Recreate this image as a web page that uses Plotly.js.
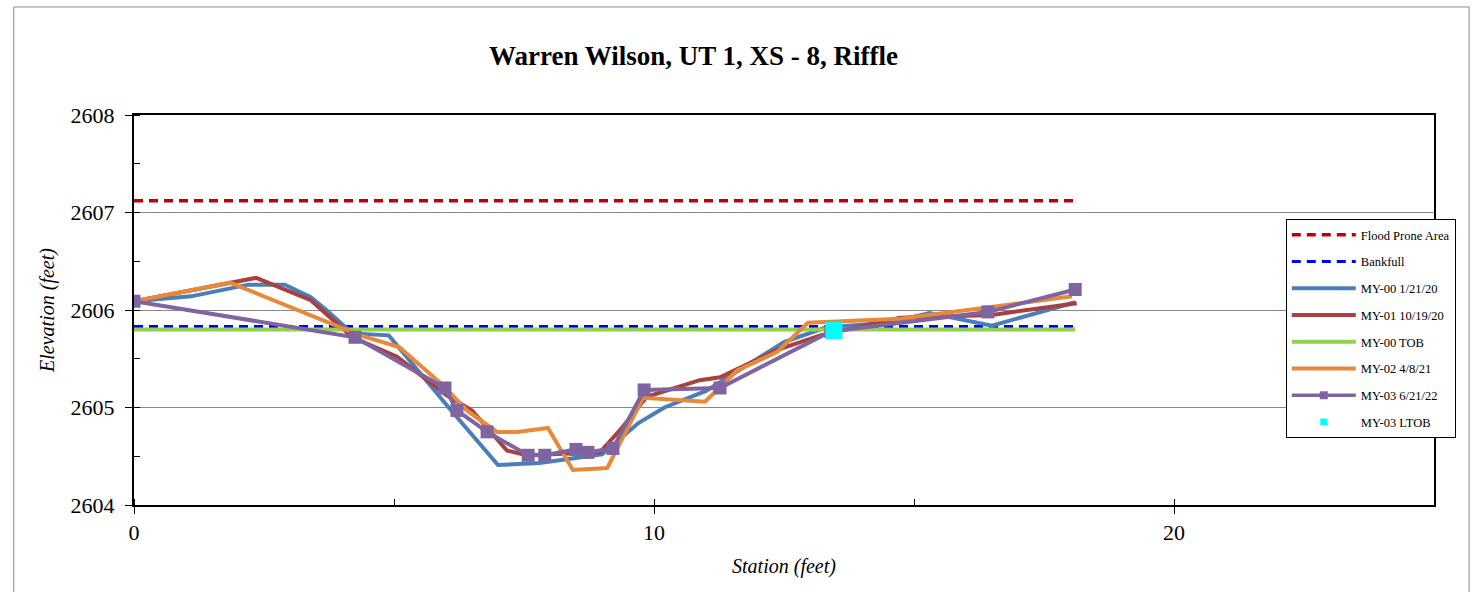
<!DOCTYPE html>
<html><head><meta charset="utf-8">
<script src="https://cdn.plot.ly/plotly-3.0.1.min.js"></script>
<style>html,body{margin:0;padding:0;background:#fff;}#chart{width:1474px;height:592px;}</style>
</head><body><div id="chart"></div>
<script>
const floodX = [0, 18.1];
const floodY = [2607.12, 2607.12];
const bankX = [0, 18.1];
const bankY = [2605.83, 2605.83];
const tobX = [0, 18.1];
const tobY = [2605.80, 2605.80];

const my00X = [0, 1.1, 2.2, 2.9, 3.4, 3.7, 4.2, 4.9, 6.1, 7.0, 7.8, 9.0, 9.7, 10.2, 11.0, 12.5, 13.3, 14.5, 15.3, 16.5, 18.1];
const my00Y = [2606.09, 2606.14, 2606.26, 2606.26, 2606.13, 2606.0, 2605.76, 2605.74, 2604.97, 2604.41, 2604.43, 2604.52, 2604.84, 2605.00, 2605.17, 2605.67, 2605.82, 2605.87, 2605.97, 2605.84, 2606.08];

const my01X = [0, 2.35, 3.4, 4.2, 5.06, 6.0, 6.5, 7.17, 7.55, 8.96, 9.35, 9.86, 10.88, 11.27, 12.37, 13.2, 14.73, 16.5, 18.13];
const my01Y = [2606.09, 2606.33, 2606.1, 2605.72, 2605.52, 2605.13, 2604.97, 2604.56, 2604.51, 2604.54, 2604.77, 2605.11, 2605.28, 2605.31, 2605.59, 2605.74, 2605.92, 2605.95, 2606.07];

const my02X = [0, 1.85, 4.35, 5.1, 5.94, 6.4, 6.98, 7.37, 7.96, 8.44, 9.1, 9.79, 10.98, 11.6, 12.37, 12.96, 14.73, 18.04];
const my02Y = [2606.09, 2606.28, 2605.74, 2605.62, 2605.23, 2604.97, 2604.75, 2604.75, 2604.79, 2604.36, 2604.38, 2605.1, 2605.06, 2605.38, 2605.57, 2605.87, 2605.91, 2606.14];

const my03X = [0, 4.25, 5.98, 6.21, 6.79, 7.58, 7.9, 8.5, 8.73, 9.21, 9.81, 11.27, 13.4, 16.42, 18.1];
const my03Y = [2606.09, 2605.72, 2605.2, 2604.97, 2604.75, 2604.51, 2604.51, 2604.57, 2604.54, 2604.58, 2605.18, 2605.2, 2605.78, 2605.98, 2606.21];

const ltobX = [13.46];
const ltobY = [2605.79];

const serif = "'Liberation Serif', 'Times New Roman', Times, serif";

const traces = [
  {x: floodX, y: floodY, name: "Flood Prone Area", mode: "lines", line: {color: "#C00000", width: 3.5, dash: "9px,6px"}, legendgroup: "a"},
  {x: bankX, y: bankY, name: "Bankfull", mode: "lines", line: {color: "#0000FF", width: 3, dash: "9px,6px"}, legendgroup: "b"},
  {x: my00X, y: my00Y, name: "MY-00 1/21/20", mode: "lines", line: {color: "#4A7EBB", width: 4}, legendgroup: "c"},
  {x: my01X, y: my01Y, name: "MY-01 10/19/20", mode: "lines", line: {color: "#A8403D", width: 4}, legendgroup: "d"},
  {x: tobX, y: tobY, name: "MY-00 TOB", mode: "lines", line: {color: "#92D050", width: 4}, legendgroup: "e"},
  {x: my02X, y: my02Y, name: "MY-02 4/8/21", mode: "lines", line: {color: "#E8893A", width: 4}, legendgroup: "f"},
  {x: my03X, y: my03Y, name: "MY-03 6/21/22", mode: "lines+markers", line: {color: "#8064A2", width: 4}, marker: {symbol: "square", size: 13, color: "#8064A2"}, showlegend: false},
  {x: [null], y: [null], name: "MY-03 6/21/22", mode: "lines+markers", line: {color: "#8064A2", width: 3.5}, marker: {symbol: "square", size: 8, color: "#8064A2"}, legendgroup: "g"},
  {x: ltobX, y: ltobY, name: "MY-03 LTOB", mode: "markers", marker: {symbol: "square", size: 17, color: "#00FFFF"}, showlegend: false},
  {x: [null], y: [null], name: "MY-03 LTOB", mode: "markers", marker: {symbol: "square", size: 7, color: "#00FFFF"}, legendgroup: "h"}
];

const layout = {
  width: 1474, height: 592,
  margin: {l: 134, r: 40, t: 115, b: 87},
  paper_bgcolor: "#fff", plot_bgcolor: "#fff",
  font: {family: serif, color: "#000"},
  title: {text: "<b>Warren Wilson, UT 1, XS - 8, Riffle</b>", font: {family: serif, size: 27, color: "#000"}, x: 0.4705, xref: "container", xanchor: "center", y: 0.907, yref: "container", yanchor: "middle"},
  xaxis: {
    range: [0, 25], dtick: 10, tick0: 0, showgrid: false, zeroline: false,
    showline: true, linecolor: "#000", linewidth: 2, mirror: true,
    ticks: "outside", ticklen: 7, tickcolor: "#000", tickwidth: 1,
    tickfont: {family: serif, size: 22, color: "#000"},
    minor: {dtick: 5, ticks: "inside", ticklen: 6, tickcolor: "#000", showgrid: false},
    title: {text: "<i>Station (feet)</i>", font: {family: serif, size: 20, color: "#000"}, standoff: 15}
  },
  yaxis: {
    range: [2604, 2608], dtick: 1, showgrid: true, gridcolor: "#888", gridwidth: 1, zeroline: false,
    showline: true, linecolor: "#000", linewidth: 2, mirror: true,
    ticks: "outside", ticklen: 7, tickcolor: "#000", tickwidth: 1, ticklabelstandoff: 6,
    tickfont: {family: serif, size: 22, color: "#000"}, tickformat: "d",
    minor: {dtick: 0.5, ticks: "inside", ticklen: 6, tickcolor: "#000", showgrid: false},
    title: {text: "<i>Elevation (feet)</i>", font: {family: serif, size: 20, color: "#000"}, standoff: 11}
  },
  showlegend: true,
  legend: {
    x: 0.886, y: 0.733, xanchor: "left", yanchor: "top",
    bgcolor: "#fff", bordercolor: "#000", borderwidth: 1,
    font: {family: serif, size: 12.5, color: "#000"},
    traceorder: "grouped", tracegroupgap: 7.5, itemwidth: 64
  },
  shapes: [
    {type: "rect", xref: "paper", yref: "paper", x0: -0.0925, x1: 1.027, y0: -0.4, y1: 1.277, line: {color: "#888", width: 1}, fillcolor: "rgba(0,0,0,0)", layer: "below"}
  ]
};

Plotly.newPlot("chart", traces, layout, {displayModeBar: false, staticPlot: true});
</script>
</body></html>
